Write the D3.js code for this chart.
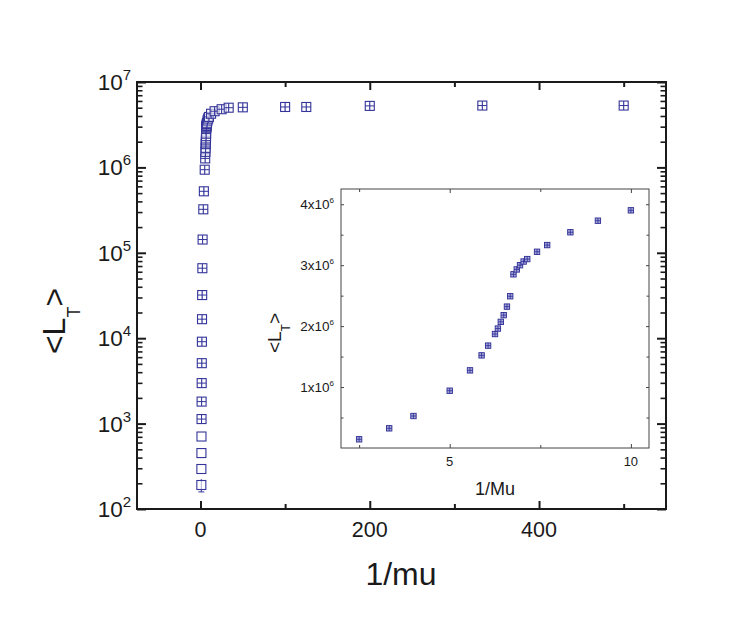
<!DOCTYPE html>
<html>
<head>
<meta charset="utf-8">
<script src="https://cdn.jsdelivr.net/npm/d3@7"></script>
<style>
  body { margin: 0; background: #fff; }
  text { font-family: "Liberation Sans", Arial, Helvetica, sans-serif; fill: #1a1a1a; }
</style>
</head>
<body>
<div id="chart"></div>
<script>
// 1/mu values and mean <L_T>
const invMu = [1.0, 1.05, 1.11, 1.18, 1.25, 1.33, 1.43, 1.54, 1.67, 1.82, 2.0, 2.22,
    2.5, 3.33, 4, 5, 5.56, 5.88, 6.06, 6.25, 6.33, 6.41, 6.49, 6.58, 6.67, 6.76, 6.85,
    6.94, 7.04, 7.14, 7.41, 7.69, 8.33, 9.09, 10,
    12.5, 16.7, 25, 33.3, 50, 100, 125, 200, 333, 500];
const meanL = [191, 294, 452, 706, 1130, 1810, 2980, 5100, 9100, 16700, 32000, 66000,
    1.43e5, 3.23e5, 5.25e5, 9.4e5, 1.274e6, 1.52e6, 1.68e6, 1.87e6, 1.96e6, 2.07e6, 2.18e6,
    2.32e6, 2.49e6, 2.85e6, 2.93e6, 3.0e6, 3.06e6, 3.1e6, 3.22e6, 3.33e6, 3.54e6, 3.73e6, 3.9e6,
    4.25e6, 4.55e6, 4.8e6, 5.0e6, 5.05e6, 5.1e6, 5.1e6, 5.25e6, 5.3e6, 5.3e6];
// relative error of <L_T>
const relErr = [0.17, 0, 0, 0, 0.1, 0.1, 0.1, 0.1, 0.1, 0.1, 0.1, 0.1,
    0.1, 0.1, 0.1, 0.1, 0.1, 0.1, 0.1, 0.1, 0.1, 0.1, 0.1, 0.1, 0.1, 0.1, 0.1,
    0.1, 0.1, 0.1, 0.1, 0.1, 0.1, 0.1, 0.1, 0.1, 0.1, 0.1, 0.1, 0.1, 0.1, 0.1, 0.1, 0.1, 0.1];

const mainXTicks = [0, 200, 400];
const mainXMinor = [100, 300, 500];
const mainYTicks = [1e2, 1e3, 1e4, 1e5, 1e6, 1e7];
const insetXTicks = [5, 10];
const insetXMinor = [2.5, 7.5];
const insetYTicks = [1e6, 2e6, 3e6, 4e6];
const insetYMinor = [0.5e6, 1.5e6, 2.5e6, 3.5e6];

const points = invMu.map((x, i) => ({x: x, y: meanL[i], e: relErr[i]}));
const insetPoints = points.filter((d) => d.x >= 2.4 && d.x <= 10.5);

const W = 747, H = 639;
const blue = '#34349a';

const svg = d3.select('#chart').append('svg')
    .attr('width', W)
    .attr('height', H);
svg.append('rect').attr('width', W).attr('height', H).attr('fill', '#fff');

// ---------- main plot ----------
const m = {left: 137, right: 666, top: 82, bottom: 509};
const xScale = d3.scaleLinear().domain([-75, 550]).range([m.left, m.right]);
const yScale = d3.scaleLog().domain([1e2, 1e7]).range([m.bottom, m.top]);

const mainG = svg.append('g').attr('id', 'main');

// log minor ticks 2..9 per decade
let logMinor = [];
for (let p = 2; p < 7; p++) {
    for (let k = 2; k <= 9; k++) logMinor.push(k * Math.pow(10, p));
}

function tickAxis(g, axisFn, scale, ticks, size, width) {
    g.call(axisFn(scale).tickValues(ticks).tickSize(size).tickFormat(''));
    g.select('.domain').remove();
    g.selectAll('line').attr('stroke', '#1a1a1a').attr('stroke-width', width);
}

// inward ticks on all four sides
tickAxis(mainG.append('g').attr('transform', `translate(0,${m.bottom})`), d3.axisTop, xScale, mainXTicks, 8, 2);
tickAxis(mainG.append('g').attr('transform', `translate(0,${m.bottom})`), d3.axisTop, xScale, mainXMinor, 5, 2);
tickAxis(mainG.append('g').attr('transform', `translate(0,${m.top})`), d3.axisBottom, xScale, mainXTicks, 8, 2);
tickAxis(mainG.append('g').attr('transform', `translate(0,${m.top})`), d3.axisBottom, xScale, mainXMinor, 5, 2);
tickAxis(mainG.append('g').attr('transform', `translate(${m.left},0)`), d3.axisRight, yScale, mainYTicks, 9, 2);
tickAxis(mainG.append('g').attr('transform', `translate(${m.left},0)`), d3.axisRight, yScale, logMinor, 5.5, 1.6);
tickAxis(mainG.append('g').attr('transform', `translate(${m.right},0)`), d3.axisLeft, yScale, mainYTicks, 9, 2);
tickAxis(mainG.append('g').attr('transform', `translate(${m.right},0)`), d3.axisLeft, yScale, logMinor, 5.5, 1.6);

mainG.append('rect')
    .attr('x', m.left).attr('y', m.top)
    .attr('width', m.right - m.left).attr('height', m.bottom - m.top)
    .attr('fill', 'none').attr('stroke', '#1a1a1a').attr('stroke-width', 2);

// tick labels
mainG.selectAll('.xlab').data(mainXTicks).enter().append('text')
    .attr('class', 'xlab')
    .attr('x', (d) => xScale(d)).attr('y', 537)
    .attr('text-anchor', 'middle').attr('font-size', 21.5)
    .text((d) => d);

const yLab = mainG.selectAll('.ylab').data(mainYTicks).enter().append('text')
    .attr('class', 'ylab')
    .attr('x', 131).attr('y', (d) => yScale(d) + 8)
    .attr('text-anchor', 'end').attr('font-size', 22.5);
yLab.append('tspan').text('10');
yLab.append('tspan').attr('dy', -10).attr('font-size', 15).text((d) => Math.round(Math.log10(d)));

// axis titles
svg.append('text')
    .attr('x', 401).attr('y', 585)
    .attr('text-anchor', 'middle').attr('font-size', 32)
    .text('1/mu');
const yTitle = svg.append('text')
    .attr('transform', 'translate(65,321) rotate(-90)')
    .attr('text-anchor', 'middle').attr('font-size', 32);
yTitle.append('tspan').text('<L');
yTitle.append('tspan').attr('dy', 15).attr('font-size', 18).text('T');
yTitle.append('tspan').attr('dy', -15).text('>');

// markers: error bar, white square, inner cross
const ms = 4.5;
const mk = mainG.selectAll('.pt').data(points).enter().append('g')
    .attr('class', 'pt')
    .attr('transform', (d) => `translate(${xScale(d.x)},${yScale(d.y)})`);
mk.filter((d) => d.e > 0).append('line')
    .attr('x1', 0).attr('x2', 0)
    .attr('y1', (d) => yScale(d.y * (1 - d.e)) - yScale(d.y))
    .attr('y2', (d) => yScale(d.y * (1 + d.e)) - yScale(d.y))
    .attr('stroke', blue).attr('stroke-width', 1);
mk.filter((d) => d.e > 0 && yScale(d.y * (1 - d.e)) - yScale(d.y) > ms + 1).append('line')
    .attr('x1', -3).attr('x2', 3)
    .attr('y1', (d) => yScale(d.y * (1 - d.e)) - yScale(d.y))
    .attr('y2', (d) => yScale(d.y * (1 - d.e)) - yScale(d.y))
    .attr('stroke', blue).attr('stroke-width', 1);
mk.append('rect')
    .attr('x', -ms).attr('y', -ms).attr('width', 2 * ms).attr('height', 2 * ms)
    .attr('fill', '#fff').attr('fill-opacity', 0.6)
    .attr('stroke', blue).attr('stroke-width', 1.1);
mk.filter((d) => d.y >= 1000).append('path')
    .attr('d', `M${-ms},0H${ms}M0,${-ms}V${ms}`)
    .attr('stroke', blue).attr('stroke-width', 1).attr('fill', 'none');

// ---------- inset ----------
const n = {left: 341, right: 649, top: 189, bottom: 448};
const ixScale = d3.scaleLinear().domain([2, 10.5]).range([n.left, n.right]);
const iyScale = d3.scaleLinear().domain([0, 4.25e6]).range([n.bottom, n.top]);
const inset = svg.append('g').attr('id', 'inset');

inset.append('rect')
    .attr('x', n.left).attr('y', n.top)
    .attr('width', n.right - n.left).attr('height', n.bottom - n.top)
    .attr('fill', '#fff').attr('stroke', '#444').attr('stroke-width', 1);

tickAxis(inset.append('g').attr('transform', `translate(0,${n.bottom})`), d3.axisTop, ixScale, insetXTicks, 4, 1);
tickAxis(inset.append('g').attr('transform', `translate(0,${n.bottom})`), d3.axisTop, ixScale, insetXMinor, 3, 1);
tickAxis(inset.append('g').attr('transform', `translate(0,${n.top})`), d3.axisBottom, ixScale, insetXTicks, 4, 1);
tickAxis(inset.append('g').attr('transform', `translate(0,${n.top})`), d3.axisBottom, ixScale, insetXMinor, 3, 1);
tickAxis(inset.append('g').attr('transform', `translate(${n.left},0)`), d3.axisRight, iyScale, insetYTicks, 3, 1);
tickAxis(inset.append('g').attr('transform', `translate(${n.left},0)`), d3.axisRight, iyScale, insetYMinor, 2.5, 1);
tickAxis(inset.append('g').attr('transform', `translate(${n.right},0)`), d3.axisLeft, iyScale, insetYTicks, 3, 1);
tickAxis(inset.append('g').attr('transform', `translate(${n.right},0)`), d3.axisLeft, iyScale, insetYMinor, 2.5, 1);
inset.selectAll('g line').attr('stroke', '#444');

inset.selectAll('.ixlab').data(insetXTicks).enter().append('text')
    .attr('class', 'ixlab')
    .attr('x', (d) => ixScale(d)).attr('y', 466)
    .attr('text-anchor', 'middle').attr('font-size', 13)
    .text((d) => d);

const iyLab = inset.selectAll('.iylab').data(insetYTicks).enter().append('text')
    .attr('class', 'iylab')
    .attr('x', 334).attr('y', (d) => iyScale(d) + 4.5)
    .attr('text-anchor', 'end').attr('font-size', 13.5);
iyLab.append('tspan').text((d) => `${d / 1e6}x10`);
iyLab.append('tspan').attr('dy', -5.5).attr('font-size', 8).text('6');

inset.append('text')
    .attr('x', 495).attr('y', 495)
    .attr('text-anchor', 'middle').attr('font-size', 18)
    .text('1/Mu');
const iyTitle = inset.append('text')
    .attr('transform', 'translate(281,333) rotate(-90)')
    .attr('text-anchor', 'middle').attr('font-size', 19);
iyTitle.append('tspan').text('<L');
iyTitle.append('tspan').attr('dy', 9).attr('font-size', 12).text('T');
iyTitle.append('tspan').attr('dy', -9).text('>');

const is = 2.7;
const imk = inset.selectAll('.ipt').data(insetPoints).enter().append('g')
    .attr('class', 'ipt')
    .attr('transform', (d) => `translate(${ixScale(d.x)},${iyScale(d.y)})`);
imk.append('rect')
    .attr('x', -is).attr('y', -is).attr('width', 2 * is).attr('height', 2 * is)
    .attr('fill', '#a9a9dc').attr('stroke', '#2c2c94').attr('stroke-width', 0.9);
imk.append('path')
    .attr('d', `M${-is},0H${is}M0,${-is}V${is}`)
    .attr('stroke', '#2c2c94').attr('stroke-width', 0.8);
</script>
</body>
</html>
